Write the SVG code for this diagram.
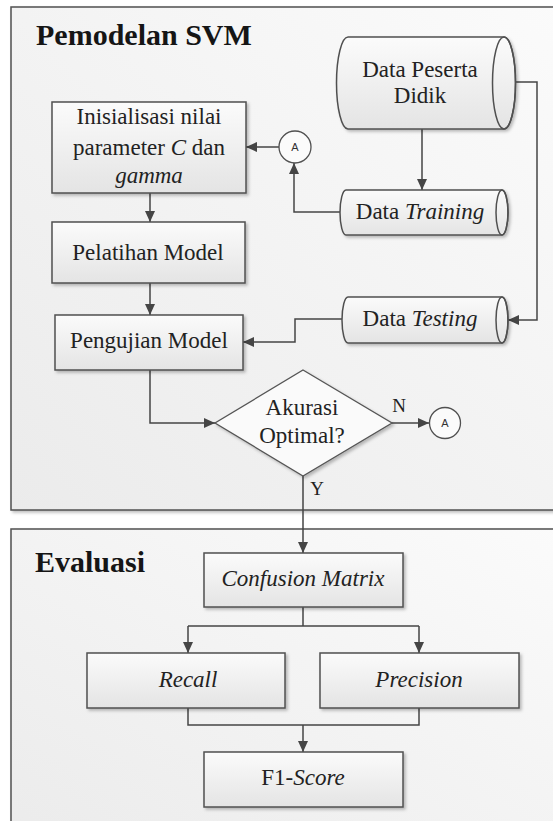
<svg xmlns="http://www.w3.org/2000/svg" width="553" height="821" viewBox="0 0 553 821">
<defs>
<linearGradient id="frameFill" x1="0" y1="1" x2="1" y2="0">
<stop offset="0" stop-color="#ebebeb"/>
<stop offset="1" stop-color="#fbfbfb"/>
</linearGradient>
<linearGradient id="boxFill" x1="0" y1="0" x2="0" y2="1">
<stop offset="0" stop-color="#fbfbfb"/>
<stop offset="1" stop-color="#e4e4e4"/>
</linearGradient>
<filter id="shadow" x="-10%" y="-10%" width="130%" height="140%">
<feDropShadow dx="2" dy="2" stdDeviation="1.5" flood-color="#000" flood-opacity="0.25"/>
</filter>
<marker id="arrow" markerUnits="userSpaceOnUse" markerWidth="12" markerHeight="10" refX="11" refY="5" orient="auto">
<path d="M0,0 L11,5 L0,10 z" fill="#454545"/>
</marker>
<style>
.frame{fill:url(#frameFill);stroke:#505050;stroke-width:1.5;filter:url(#shadow)}
.box{fill:url(#boxFill);stroke:#505050;stroke-width:1.5;filter:url(#shadow)}
.dia{fill:#fafafa;stroke:#555;stroke-width:1.3;filter:url(#shadow)}
.ell{fill:none;stroke:#505050;stroke-width:1.5}
.circ{fill:#fbfbfb;stroke:#505050;stroke-width:1.3}
.conn{fill:none;stroke:#454545;stroke-width:1.5}
.t{font-family:"Liberation Serif","Times New Roman",serif;font-size:23px;fill:#222;text-anchor:middle}
.title{font-family:"Liberation Serif","Times New Roman",serif;font-size:30px;font-weight:bold;fill:#151515}
.lbl{font-family:"Liberation Serif","Times New Roman",serif;font-size:19px;fill:#222;text-anchor:middle}
.ca{font-family:"Liberation Sans",Arial,sans-serif;font-size:11px;fill:#333;text-anchor:middle}
.i{font-style:italic}
</style>
</defs>
<rect width="553" height="821" fill="#ffffff"/>

<g id="frame-svm">
<rect class="frame" x="11" y="7" width="560" height="503"/>
<text class="title" x="36" y="45">Pemodelan SVM</text>
</g>
<g id="frame-evaluasi">
<rect class="frame" x="11" y="529" width="560" height="320"/>
<text class="title" x="35" y="572">Evaluasi</text>
</g>

<g id="connectors">
<path class="conn" d="M279,147 L246,147" marker-end="url(#arrow)"/>
<path class="conn" d="M150,193 L150,222" marker-end="url(#arrow)"/>
<path class="conn" d="M150,283 L150,315" marker-end="url(#arrow)"/>
<path class="conn" d="M150,370 L150,423 L215,423" marker-end="url(#arrow)"/>
<path class="conn" d="M422,129 L422,190" marker-end="url(#arrow)"/>
<path class="conn" d="M504,82 L537,82 L537,320 L508,320" marker-end="url(#arrow)"/>
<path class="conn" d="M340,212 L294,212 L294,163" marker-end="url(#arrow)"/>
<path class="conn" d="M342,319 L295,319 L295,342 L243,342" marker-end="url(#arrow)"/>
<path class="conn" d="M392,423 L429,423" marker-end="url(#arrow)"/>
<path class="conn" d="M303,476 L303,553" marker-end="url(#arrow)"/>
<path class="conn" d="M303,607 L303,626 M188,626 L419,626"/>
<path class="conn" d="M188,626 L188,653" marker-end="url(#arrow)"/>
<path class="conn" d="M419,626 L419,653" marker-end="url(#arrow)"/>
<path class="conn" d="M188,708 L188,725 L419,725 L419,708"/>
<path class="conn" d="M303,725 L303,752" marker-end="url(#arrow)"/>
<text class="lbl" x="399" y="412">N</text>
<text class="lbl" x="317" y="495">Y</text>
</g>

<g id="node-inisialisasi">
<rect class="box" x="52" y="102" width="194" height="91"/>
<text class="t" x="149" y="124">Inisialisasi nilai</text>
<text class="t" x="149" y="155">parameter <tspan class="i">C</tspan> dan</text>
<text class="t i" x="149" y="183">gamma</text>
</g>

<g id="node-pelatihan">
<rect class="box" x="52" y="222" width="193" height="61"/>
<text class="t" x="148" y="260">Pelatihan Model</text>
</g>

<g id="node-pengujian">
<rect class="box" x="55" y="315" width="188" height="55"/>
<text class="t" x="149" y="348">Pengujian Model</text>
</g>

<g id="node-data-peserta">
<path class="box" d="M348,37 L504,37 A11.5,46 0 0 1 504,129 L348,129 A11.5,46 0 0 1 348,37 Z"/>
<ellipse class="ell" cx="504" cy="83" rx="11.5" ry="46"/>
<text class="t" x="420" y="77">Data Peserta</text>
<text class="t" x="420" y="103">Didik</text>
</g>

<g id="node-data-training">
<path class="box" d="M346,190 L502,190 A6,22.5 0 0 1 502,235 L346,235 A6,22.5 0 0 1 346,190 Z"/>
<ellipse class="ell" cx="502" cy="212.5" rx="6" ry="22.5"/>
<text class="t" x="420" y="219">Data <tspan class="i">Training</tspan></text>
</g>

<g id="node-data-testing">
<path class="box" d="M348,297 L502,297 A6,23 0 0 1 502,343 L348,343 A6,23 0 0 1 348,297 Z"/>
<ellipse class="ell" cx="502" cy="320" rx="6" ry="23"/>
<text class="t" x="420" y="326">Data <tspan class="i">Testing</tspan></text>
</g>

<g id="node-akurasi">
<path class="dia" d="M303,370 L392,423 L303,476 L215,423 Z"/>
<text class="t" x="302" y="415">Akurasi</text>
<text class="t" x="302" y="443">Optimal?</text>
</g>

<g id="node-connector-a1">
<circle class="circ" cx="295" cy="147" r="16"/>
<text class="ca" x="295" y="151">A</text>
</g>

<g id="node-connector-a2">
<circle class="circ" cx="445" cy="423" r="15.5"/>
<text class="ca" x="445" y="427">A</text>
</g>

<g id="node-confusion">
<rect class="box" x="204" y="553" width="199" height="54"/>
<text class="t i" x="303" y="586">Confusion Matrix</text>
</g>

<g id="node-recall">
<rect class="box" x="87" y="653" width="198" height="55"/>
<text class="t i" x="188" y="687">Recall</text>
</g>

<g id="node-precision">
<rect class="box" x="320" y="653" width="199" height="55"/>
<text class="t i" x="419" y="687">Precision</text>
</g>

<g id="node-f1">
<rect class="box" x="204" y="752" width="199" height="55"/>
<text class="t" x="303" y="785">F1-<tspan class="i">Score</tspan></text>
</g>
</svg>
